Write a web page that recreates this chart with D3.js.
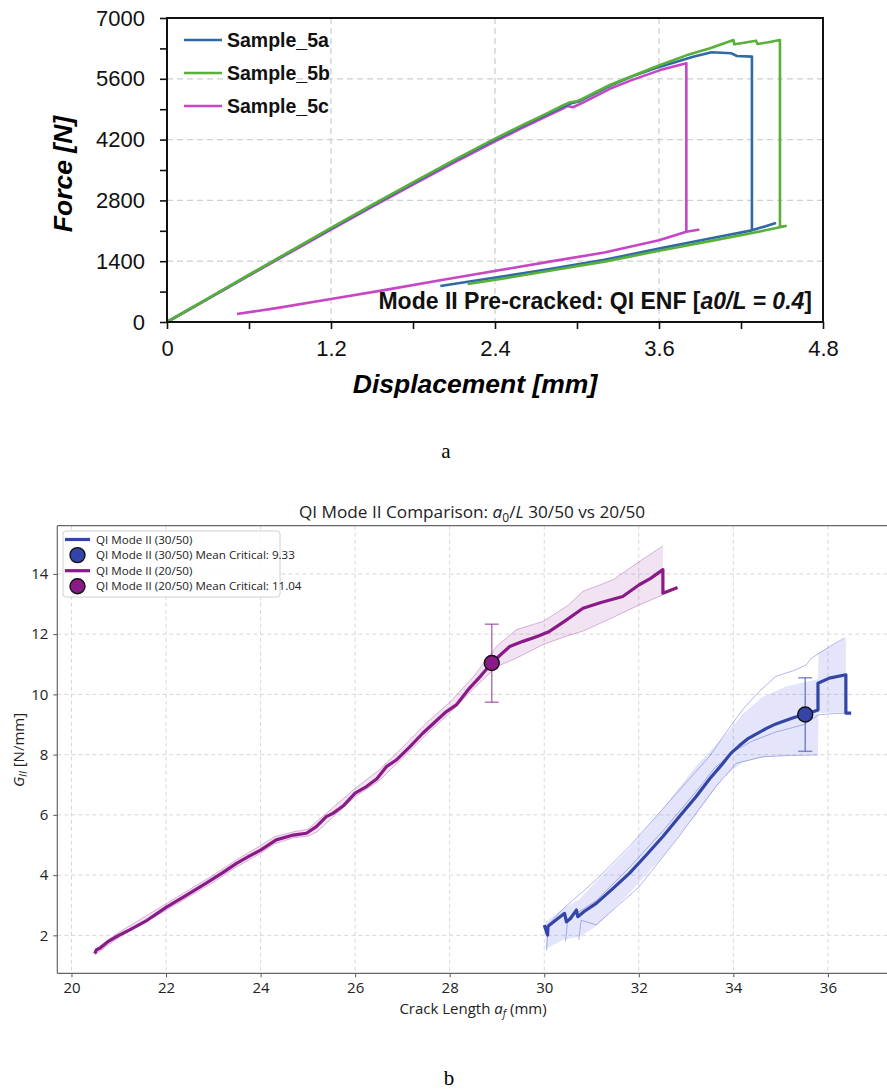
<!DOCTYPE html>
<html>
<head>
<meta charset="utf-8">
<script src="https://cdn.jsdelivr.net/npm/d3@7/dist/d3.min.js"></script>
<style>
  body { margin: 0; background: #fff; }
  svg { display: block; }
</style>
</head>
<body>
<svg id="fig" width="887" height="1089"></svg>
<script>
// ---------- panel a : force vs displacement ----------
var sampleNames = ["Sample_5a", "Sample_5b", "Sample_5c"];

// load -> drop -> short reload -> unload back
var disp5a  = [0, 0.3, 0.6, 0.9, 1.2, 1.5, 1.8, 2.1, 2.4, 2.6, 2.78, 2.9, 2.96, 3.02, 3.24, 3.4, 3.608, 3.85, 3.985, 4.13, 4.17, 4.28, 4.28, 4.449, 4.28, 4.0, 3.6, 3.2, 2.8, 2.44, 2.0];
var force5a = [0, 538, 1080, 1618, 2150, 2680, 3200, 3710, 4200, 4510, 4780, 4960, 5040, 5085, 5440, 5650, 5880, 6110, 6210, 6187, 6125, 6110, 2110, 2272, 2110, 1940, 1690, 1430, 1220, 1040, 830];

var disp5b  = [0, 0.3, 0.6, 0.9, 1.2, 1.5, 1.8, 2.1, 2.4, 2.6, 2.78, 2.9, 2.95, 3.0, 3.02, 3.24, 3.4, 3.608, 3.8, 3.974, 4.145, 4.15, 4.2, 4.31, 4.32, 4.4, 4.485, 4.485, 4.528, 4.3, 4.0, 3.6, 3.2, 2.8, 2.44, 2.2];
var force5b = [0, 542, 1088, 1628, 2165, 2695, 3215, 3725, 4222, 4535, 4805, 4990, 5060, 5085, 5110, 5457, 5660, 5918, 6140, 6302, 6493, 6394, 6420, 6478, 6401, 6440, 6493, 2195, 2210, 2060, 1880, 1640, 1390, 1180, 990, 875];

var disp5c  = [0, 0.3, 0.6, 0.9, 1.2, 1.5, 1.8, 2.1, 2.4, 2.6, 2.78, 2.9, 2.93, 2.97, 3.04, 3.24, 3.4, 3.608, 3.8, 3.8, 3.888, 3.8, 3.6, 3.2, 2.8, 2.44, 2.0, 1.6, 1.2, 0.8, 0.512];
var force5c = [0, 532, 1068, 1600, 2125, 2650, 3165, 3670, 4160, 4470, 4740, 4920, 4975, 4945, 5045, 5370, 5570, 5800, 5960, 2080, 2125, 2080, 1880, 1600, 1390, 1197, 960, 740, 530, 320, 184];

var forceTicks = [0, 1400, 2800, 4200, 5600, 7000];
var forceMinor = [700, 2100, 3500, 4900, 6300];
var dispTicks = [0, 1.2, 2.4, 3.6, 4.8];
var dispMinor = [0.6, 1.8, 3.0, 4.2];

// ---------- panel b : G_II vs crack length ----------
var purpleMeanX = [20.49, 20.53, 20.6, 20.77, 21.0, 21.23, 21.6, 22.0, 22.4, 22.85, 23.2, 23.49, 23.75, 24.0, 24.33, 24.69, 24.97, 25.18, 25.39, 25.53, 25.75, 26.0, 26.24, 26.46, 26.66, 26.87, 27.15, 27.43, 27.7, 27.93, 28.14, 28.42, 28.65, 28.9, 29.1, 29.27, 29.55, 29.85, 30.11, 30.45, 30.82, 31.2, 31.66, 32.01, 32.25, 32.51, 32.51, 32.82];
var purpleMeanY = [1.40, 1.52, 1.57, 1.79, 2.0, 2.18, 2.50, 2.93, 3.30, 3.73, 4.08, 4.39, 4.62, 4.83, 5.17, 5.33, 5.39, 5.61, 5.94, 6.05, 6.30, 6.72, 6.94, 7.20, 7.60, 7.82, 8.25, 8.71, 9.10, 9.43, 9.65, 10.21, 10.60, 11.06, 11.35, 11.59, 11.76, 11.92, 12.09, 12.45, 12.86, 13.05, 13.25, 13.64, 13.85, 14.14, 13.36, 13.55];
var purpleBandX  = [20.49, 21.0, 22.0, 23.0, 23.5, 24.0, 24.3, 24.7, 25.0, 25.2, 25.5, 26.0, 26.5, 27.0, 27.5, 28.0, 28.5, 28.99, 29.41, 29.97, 30.5, 30.82, 31.45, 32.01, 32.51];
var purpleBandLo = [1.35, 1.93, 2.83, 3.76, 4.28, 4.72, 5.04, 5.24, 5.29, 5.44, 5.88, 6.60, 7.12, 7.88, 8.66, 9.38, 10.18, 10.92, 11.20, 11.65, 11.95, 12.10, 12.55, 12.97, 13.30];
var purpleBandHi = [1.52, 2.10, 3.05, 4.00, 4.52, 4.98, 5.28, 5.44, 5.52, 5.80, 6.20, 6.88, 7.48, 8.24, 9.04, 9.74, 10.58, 11.59, 12.15, 12.42, 12.95, 13.42, 13.80, 14.41, 14.93];

var blueMeanX = [30.0, 30.07, 30.08, 30.2, 30.43, 30.47, 30.55, 30.68, 30.71, 30.85, 31.1, 31.45, 31.8, 32.15, 32.51, 32.85, 33.21, 33.5, 33.78, 33.95, 34.13, 34.3, 34.5, 34.7, 34.9, 35.12, 35.3, 35.5, 35.79, 35.79, 36.03, 36.38, 36.38, 36.49];
var blueMeanY = [2.34, 2.01, 2.30, 2.45, 2.73, 2.45, 2.55, 2.84, 2.62, 2.80, 3.06, 3.55, 4.06, 4.65, 5.28, 5.93, 6.60, 7.20, 7.71, 8.05, 8.30, 8.52, 8.70, 8.87, 9.02, 9.14, 9.24, 9.32, 9.48, 10.37, 10.54, 10.65, 9.38, 9.38];
var blueBandX  = [30.03, 30.4, 30.75, 31.1, 31.8, 32.5, 33.2, 33.8, 34.2, 34.6, 35.1, 35.5, 35.79, 35.8, 36.38];
var blueBandLo = [1.55, 1.85, 1.95, 2.30, 3.40, 4.60, 6.00, 7.25, 7.75, 7.90, 7.97, 8.00, 8.00, 9.38, 9.40];
var blueBandHi = [2.45, 2.90, 3.20, 3.80, 4.90, 6.20, 7.60, 8.60, 9.35, 9.90, 10.25, 10.40, 10.50, 11.37, 11.87];

// individual specimens (thin lines)
var blueS1X = [30.05, 30.08, 30.4, 31.1, 31.8, 32.65, 33.1, 33.5, 33.85, 34.2, 34.55, 34.9, 35.3, 35.54, 35.65, 35.82, 36.1, 36.35];
var blueS1Y = [1.5, 2.35, 2.88, 3.85, 4.95, 6.45, 7.25, 7.95, 8.75, 9.5, 10.1, 10.6, 10.8, 10.98, 11.2, 11.37, 11.65, 11.87];
var blueS2X = [30.45, 30.5, 31.1, 31.8, 32.5, 33.2, 33.6, 34.0, 34.4, 34.9, 35.5, 35.8, 36.1, 36.5];
var blueS2Y = [1.8, 2.55, 3.15, 4.25, 5.45, 6.75, 7.55, 8.1, 8.45, 8.75, 9.0, 9.32, 9.36, 9.38];
var blueS3X = [30.73, 30.78, 31.1, 32.0, 32.85, 33.63, 34.06, 34.62, 35.2, 35.78];
var blueS3Y = [1.85, 2.5, 2.35, 3.6, 5.28, 6.94, 7.71, 7.93, 7.97, 7.99];

var critical = [
  { label: "QI Mode II (30/50) Mean Critical: 9.33", x: 35.52, y: 9.33, lo: 8.11, hi: 10.55 },
  { label: "QI Mode II (20/50) Mean Critical: 11.04", x: 28.89, y: 11.04, lo: 9.74, hi: 12.33 }
];
var crackTicks = [20, 22, 24, 26, 28, 30, 32, 34, 36];
var gTicks = [2, 4, 6, 8, 10, 12, 14];

var svg = d3.select("#fig");

function zip(xs, ys) {
  return xs.map(function(v, i) { return [v, ys[i]]; });
}

// =====================================================
// panel a
// =====================================================
(function() {
  var ARIAL = "'Liberation Sans', Arial, sans-serif";
  var colors = ["#2f69a8", "#58b03a", "#c746c4"];
  var L = 167, R = 823, T = 18, B = 322;

  var x = d3.scaleLinear().domain([0, 4.8]).range([L, R]);
  var y = d3.scaleLinear().domain([0, 7000]).range([B, T]);
  var g = svg.append("g");

  // dashed grid
  g.selectAll("line.gx").data(dispTicks.slice(1, -1)).enter().append("line")
    .attr("x1", function(d) { return x(d); }).attr("x2", function(d) { return x(d); })
    .attr("y1", T).attr("y2", B)
    .attr("stroke", "#cfcfcf").attr("stroke-width", 1.3).attr("stroke-dasharray", "6,4");
  g.selectAll("line.gy").data(forceTicks.slice(1, -1)).enter().append("line")
    .attr("y1", function(d) { return y(d); }).attr("y2", function(d) { return y(d); })
    .attr("x1", L).attr("x2", R)
    .attr("stroke", "#cfcfcf").attr("stroke-width", 1.3).attr("stroke-dasharray", "6,4");

  var line = d3.line().x(function(d) { return x(d[0]); }).y(function(d) { return y(d[1]); });
  var curves = [zip(disp5a, force5a), zip(disp5b, force5b), zip(disp5c, force5c)];
  // draw c first so blue/green sit on top like the original
  [2, 0, 1].forEach(function(i) {
    g.append("path").attr("d", line(curves[i]))
      .attr("fill", "none").attr("stroke", colors[i])
      .attr("stroke-width", 2.6).attr("stroke-linejoin", "round");
  });

  // axes
  var ax = d3.axisBottom(x).tickValues(dispTicks.concat(dispMinor)).tickSize(7)
    .tickFormat(function(d) { return dispTicks.indexOf(d) >= 0 ? (d === 0 ? "0" : d3.format(".1f")(d)) : ""; });
  var ay = d3.axisLeft(y).tickValues(forceTicks.concat(forceMinor)).tickSize(7)
    .tickFormat(function(d) { return forceTicks.indexOf(d) >= 0 ? d : ""; });

  var gx = g.append("g").attr("transform", "translate(0," + B + ")").call(ax);
  var gy = g.append("g").attr("transform", "translate(" + L + ",0)").call(ay);
  [gx, gy].forEach(function(a) {
    a.select(".domain").remove();
    a.selectAll(".tick line").attr("stroke", "#111").attr("stroke-width", 1.6);
    a.selectAll(".tick text").attr("font-family", ARIAL).attr("font-size", 22).attr("fill", "#111");
  });
  gx.selectAll(".tick text").attr("dy", "1.1em");
  gy.selectAll(".tick text").attr("x", -22);

  g.append("rect").attr("x", L).attr("y", T).attr("width", R - L).attr("height", B - T)
    .attr("fill", "none").attr("stroke", "#111").attr("stroke-width", 2);

  g.append("text").attr("x", (L + R) / 2 - 20).attr("y", 393)
    .attr("text-anchor", "middle").attr("font-family", ARIAL)
    .attr("font-size", 26.5).attr("font-weight", "bold").attr("font-style", "italic")
    .text("Displacement [mm]");
  g.append("text").attr("transform", "translate(72,174) rotate(-90)")
    .attr("text-anchor", "middle").attr("font-family", ARIAL)
    .attr("font-size", 26.5).attr("font-weight", "bold").attr("font-style", "italic")
    .text("Force [N]");

  // legend
  sampleNames.forEach(function(name, i) {
    var ly = 40 + i * 33;
    g.append("line").attr("x1", 184).attr("x2", 222).attr("y1", ly).attr("y2", ly)
      .attr("stroke", colors[i]).attr("stroke-width", 2.6);
    g.append("text").attr("x", 227).attr("y", ly).attr("dy", "0.36em")
      .attr("font-family", ARIAL).attr("font-size", 19.5).attr("font-weight", "bold")
      .attr("fill", "#111").text(name);
  });

  var note = g.append("text").attr("x", 812).attr("y", 309).attr("text-anchor", "end")
    .attr("font-family", ARIAL).attr("font-size", 23).attr("font-weight", "bold").attr("fill", "#111");
  note.append("tspan").text("Mode II Pre-cracked: QI ENF [");
  note.append("tspan").attr("font-style", "italic").text("a0/L = 0.4");
  note.append("tspan").text("]");

  svg.append("text").attr("x", 446).attr("y", 458).attr("text-anchor", "middle")
    .attr("font-family", "'Liberation Serif', serif").attr("font-size", 21).text("a");
})();

// =====================================================
// panel b
// =====================================================
(function() {
  var SANS = "'Open Sans', 'Noto Sans', sans-serif";
  var blue = "#3346a8", purple = "#8a1a88";
  var L = 57.3, R = 887, T = 525.7, B = 973.3;

  var x = d3.scaleLinear().domain([19.70, 37.25]).range([L, R]);
  var y = d3.scaleLinear().domain([0.74, 15.6]).range([B, T]);
  var g = svg.append("g");

  g.selectAll("line.gx").data(crackTicks).enter().append("line")
    .attr("x1", function(d) { return x(d); }).attr("x2", function(d) { return x(d); })
    .attr("y1", T).attr("y2", B)
    .attr("stroke", "#d4d4d4").attr("stroke-width", 0.9).attr("stroke-dasharray", "4,3");
  g.selectAll("line.gy").data(gTicks).enter().append("line")
    .attr("y1", function(d) { return y(d); }).attr("y2", function(d) { return y(d); })
    .attr("x1", L).attr("x2", R)
    .attr("stroke", "#d4d4d4").attr("stroke-width", 0.9).attr("stroke-dasharray", "4,3");

  var line = d3.line().x(function(d) { return x(d[0]); }).y(function(d) { return y(d[1]); });
  var area = d3.area()
    .x(function(d) { return x(d[0]); })
    .y0(function(d) { return y(d[1]); })
    .y1(function(d) { return y(d[2]); });

  function band(xs, lo, hi) {
    return xs.map(function(v, i) { return [v, lo[i], hi[i]]; });
  }

  // purple set (20/50)
  g.append("path").attr("d", area(band(purpleBandX, purpleBandLo, purpleBandHi)))
    .attr("fill", purple).attr("fill-opacity", 0.12);
  [purpleBandLo, purpleBandHi].forEach(function(arr) {
    g.append("path").attr("d", line(zip(purpleBandX, arr)))
      .attr("fill", "none").attr("stroke", purple).attr("stroke-opacity", 0.3).attr("stroke-width", 1);
  });

  // blue set (30/50)
  g.append("path").attr("d", area(band(blueBandX, blueBandLo, blueBandHi)))
    .attr("fill", "#5560e0").attr("fill-opacity", 0.16);
  [zip(blueS1X, blueS1Y), zip(blueS2X, blueS2Y), zip(blueS3X, blueS3Y)].forEach(function(s) {
    g.append("path").attr("d", line(s))
      .attr("fill", "none").attr("stroke", "#5560d0").attr("stroke-opacity", 0.45).attr("stroke-width", 1);
  });

  g.append("path").attr("d", line(zip(purpleMeanX, purpleMeanY)))
    .attr("fill", "none").attr("stroke", purple).attr("stroke-width", 3.2).attr("stroke-linejoin", "round");
  g.append("path").attr("d", line(zip(blueMeanX, blueMeanY)))
    .attr("fill", "none").attr("stroke", blue).attr("stroke-width", 3.2).attr("stroke-linejoin", "round");

  // critical points with error bars
  var critColors = [blue, purple];
  critical.forEach(function(c, i) {
    var col = critColors[i];
    var eb = g.append("g").attr("stroke", col).attr("stroke-opacity", 0.6).attr("stroke-width", 1.5);
    eb.append("line").attr("x1", x(c.x)).attr("x2", x(c.x)).attr("y1", y(c.lo)).attr("y2", y(c.hi));
    eb.append("line").attr("x1", x(c.x) - 7).attr("x2", x(c.x) + 7).attr("y1", y(c.lo)).attr("y2", y(c.lo));
    eb.append("line").attr("x1", x(c.x) - 7).attr("x2", x(c.x) + 7).attr("y1", y(c.hi)).attr("y2", y(c.hi));
    g.append("circle").attr("cx", x(c.x)).attr("cy", y(c.y)).attr("r", 7.5)
      .attr("fill", col).attr("stroke", "#111").attr("stroke-width", 1.4);
  });

  // axes
  var ax = d3.axisBottom(x).tickValues(crackTicks).tickSize(4).tickPadding(5);
  var ay = d3.axisLeft(y).tickValues(gTicks).tickSize(4).tickPadding(5);
  var gx = g.append("g").attr("transform", "translate(0," + B + ")").call(ax);
  var gy = g.append("g").attr("transform", "translate(" + L + ",0)").call(ay);
  [gx, gy].forEach(function(a) {
    a.select(".domain").remove();
    a.selectAll(".tick line").attr("stroke", "#555");
    a.selectAll(".tick text").attr("font-family", SANS).attr("font-size", 15).attr("fill", "#222");
  });

  g.append("line").attr("x1", L).attr("x2", R).attr("y1", T).attr("y2", T).attr("stroke", "#666").attr("stroke-width", 1.2);
  g.append("line").attr("x1", L).attr("x2", R).attr("y1", B).attr("y2", B).attr("stroke", "#666").attr("stroke-width", 1.2);
  g.append("line").attr("x1", L).attr("x2", L).attr("y1", T).attr("y2", B).attr("stroke", "#666").attr("stroke-width", 1.2);

  // title and labels
  var title = g.append("text").attr("x", 472).attr("y", 518).attr("text-anchor", "middle")
    .attr("font-family", SANS).attr("font-size", 17.2).attr("fill", "#222");
  title.append("tspan").text("QI Mode II Comparison: ");
  title.append("tspan").attr("font-style", "italic").text("a");
  title.append("tspan").attr("font-size", 12).attr("dy", 4).text("0");
  title.append("tspan").attr("dy", -4).text("/");
  title.append("tspan").attr("font-style", "italic").text("L");
  title.append("tspan").text(" 30/50 vs 20/50");

  var xl = g.append("text").attr("x", 473).attr("y", 1014).attr("text-anchor", "middle")
    .attr("font-family", SANS).attr("font-size", 15).attr("fill", "#222");
  xl.append("tspan").text("Crack Length ");
  xl.append("tspan").attr("font-style", "italic").text("a");
  xl.append("tspan").attr("font-style", "italic").attr("font-size", 10.5).attr("dy", 3).text("f");
  xl.append("tspan").attr("dy", -3).text(" (mm)");

  var yl = g.append("text").attr("transform", "translate(24,750) rotate(-90)").attr("text-anchor", "middle")
    .attr("font-family", SANS).attr("font-size", 15).attr("fill", "#222");
  yl.append("tspan").attr("font-style", "italic").text("G");
  yl.append("tspan").attr("font-style", "italic").attr("font-size", 10.5).attr("dy", 3).text("II");
  yl.append("tspan").attr("dy", -3).text(" [N/mm]");

  // legend
  var lg = g.append("g");
  lg.append("rect").attr("x", 63).attr("y", 531).attr("width", 217).attr("height", 66).attr("rx", 3)
    .attr("fill", "#fff").attr("fill-opacity", 0.85).attr("stroke", "#d0d0d0");
  var entries = [
    { kind: "line", color: blue, text: "QI Mode II (30/50)" },
    { kind: "dot", color: blue, text: critical[0].label },
    { kind: "line", color: purple, text: "QI Mode II (20/50)" },
    { kind: "dot", color: purple, text: critical[1].label }
  ];
  entries.forEach(function(e, i) {
    var ly = 539.5 + i * 15.6;
    if (e.kind === "line") {
      lg.append("line").attr("x1", 65).attr("x2", 90).attr("y1", ly).attr("y2", ly)
        .attr("stroke", e.color).attr("stroke-width", 3.2);
    } else {
      lg.append("circle").attr("cx", 77.5).attr("cy", ly).attr("r", 7.5)
        .attr("fill", e.color).attr("stroke", "#111").attr("stroke-width", 1.4);
    }
    lg.append("text").attr("x", 96).attr("y", ly).attr("dy", "0.35em")
      .attr("font-family", SANS).attr("font-size", 11.6).attr("fill", "#222").text(e.text);
  });

  svg.append("text").attr("x", 449).attr("y", 1085).attr("text-anchor", "middle")
    .attr("font-family", "'Liberation Serif', serif").attr("font-size", 21).text("b");
})();
</script>
</body>
</html>
